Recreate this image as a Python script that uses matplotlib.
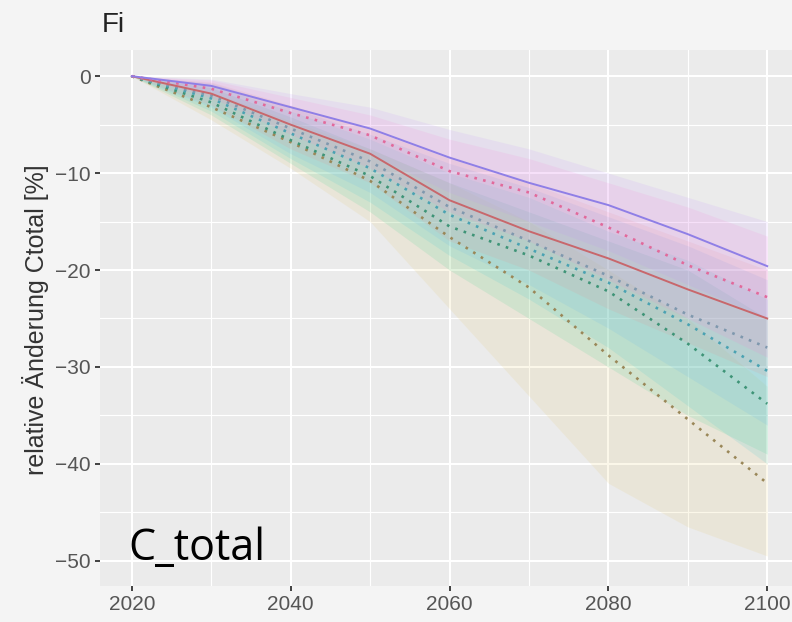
import matplotlib.pyplot as plt
from matplotlib.ticker import MultipleLocator

# Jahre (Stützstellen, alle 10 Jahre)
jahre = [2020, 2030, 2040, 2050, 2060, 2070, 2080, 2090, 2100]

# Mittelwerte je Szenario (relative Änderung Ctotal in %)
lila_mittel = [0, -1.0, -3.2, -5.4, -8.4, -11.0, -13.3, -16.3, -19.6]
rosa_mittel = [0, -1.3, -3.8, -6.1, -9.8, -12.0, -15.6, -19.5, -22.8]
rot_mittel = [0, -1.8, -5.0, -8.0, -12.8, -16.0, -18.8, -22.0, -25.0]
blau_mittel = [0, -2.0, -5.4, -8.8, -13.5, -17.0, -20.6, -24.6, -28.0]
cyan_mittel = [0, -2.3, -5.9, -9.5, -14.3, -17.8, -21.3, -25.6, -30.4]
gruen_mittel = [0, -2.7, -6.6, -10.3, -15.5, -18.5, -22.2, -27.6, -33.8]
gelb_mittel = [0, -3.2, -6.8, -10.8, -16.6, -21.8, -28.8, -35.4, -42.0]

# Unsicherheitsbänder (unten / oben)
lila_unten = [0, -1.8, -5.0, -8.0, -12.0, -15.0, -18.0, -21.5, -25.0]
lila_oben = [0, -0.3, -1.8, -3.2, -5.5, -7.5, -10.0, -12.5, -15.0]
rosa_unten = [0, -2.2, -6.0, -9.5, -14.0, -17.0, -21.0, -25.0, -29.0]
rosa_oben = [0, -0.4, -2.2, -4.0, -6.5, -8.5, -11.0, -13.5, -16.5]
rot_unten = [0, -3.0, -7.5, -11.0, -17.0, -20.0, -24.0, -27.5, -31.0]
rot_oben = [0, -0.6, -3.0, -5.5, -8.5, -11.0, -14.0, -17.0, -20.0]
blau_unten = [0, -3.2, -8.0, -12.0, -17.5, -21.5, -26.0, -31.0, -36.0]
blau_oben = [0, -0.7, -3.2, -6.0, -9.0, -11.5, -14.5, -17.5, -21.0]
cyan_unten = [0, -3.6, -8.5, -13.0, -18.5, -23.0, -28.0, -34.0, -40.0]
cyan_oben = [0, -0.9, -3.6, -6.5, -10.0, -12.5, -16.0, -19.0, -23.0]
gruen_unten = [0, -4.0, -9.0, -14.0, -20.0, -25.0, -30.0, -35.0, -39.0]
gruen_oben = [0, -1.2, -4.2, -7.5, -11.0, -14.0, -17.0, -20.0, -25.0]
gelb_unten = [0, -4.5, -9.5, -15.0, -24.0, -33.0, -42.0, -46.5, -49.5]
gelb_oben = [0, -1.6, -4.6, -7.5, -11.0, -15.0, -20.0, -25.0, -32.0]

reihen = [
    (gelb_mittel, gelb_unten, gelb_oben, "#e3c25a", "#9a8758", "dotted"),
    (gruen_mittel, gruen_unten, gruen_oben, "#2fcf86", "#3e9477", "dotted"),
    (cyan_mittel, cyan_unten, cyan_oben, "#2fc6d0", "#4aa2b2", "dotted"),
    (blau_mittel, blau_unten, blau_oben, "#5ab2ee", "#7f98ae", "dotted"),
    (rot_mittel, rot_unten, rot_oben, "#f08a86", "#c8676c", "solid"),
    (rosa_mittel, rosa_unten, rosa_oben, "#ff7ad2", "#e2699b", "dotted"),
    (lila_mittel, lila_unten, lila_oben, "#c08cff", "#8f7fe6", "solid"),
]

fig = plt.figure(figsize=(7.92, 6.22), dpi=100, facecolor="#f4f4f4")
ax = fig.add_axes([100 / 792, 36 / 622, 699 / 792, 536 / 622])
ax.set_facecolor("#ebebeb")

for mittel, unten, oben, band, linie, stil in reihen:
    ax.fill_between(jahre, unten, oben, color=band, alpha=0.13, lw=0, zorder=2)

for mittel, unten, oben, band, linie, stil in reihen:
    if stil == "solid":
        ax.plot(jahre, mittel, color=linie, lw=1.4, zorder=3)
    else:
        ax.plot(jahre, mittel, color=linie, lw=1.9, ls=(0, (1, 2.4)), zorder=3)

ax.set_xlim(2016, 2104)
ax.set_ylim(-52.6, 2.7)
ax.xaxis.set_major_locator(MultipleLocator(20))
ax.xaxis.set_minor_locator(MultipleLocator(10))
ax.yaxis.set_major_locator(MultipleLocator(10))
ax.yaxis.set_minor_locator(MultipleLocator(5))
ax.grid(which="major", color="white", lw=1.5, zorder=1)
ax.grid(which="minor", color="white", lw=0.8, zorder=1)
ax.set_axisbelow(True)
for s in ax.spines.values():
    s.set_visible(False)

ax.tick_params(which="major", length=3.5, width=1.3, color="#333333",
               labelsize=15, labelcolor="#555555", pad=3)
ax.tick_params(which="minor", length=0)
for lab in ax.get_xticklabels() + ax.get_yticklabels():
    lab.set_family("Liberation Sans")
ax.set_yticks([0, -10, -20, -30, -40, -50])
ax.set_yticklabels(["0", "\u221210", "\u221220", "\u221230", "\u221240", "\u221250"],
                   family="Liberation Sans")

fig.text(36 / 792, 1 - 320 / 622, "relative Änderung Ctotal [%]", rotation=90,
         ha="center", va="center", fontsize=18, color="#333333",
         family="Liberation Sans")
fig.text(102 / 792, 1 - 32 / 622, "Fi", fontsize=20, color="#222222",
         family="Liberation Sans", ha="left", va="baseline")
fig.text(128 / 792, 1 - 560 / 622, "C_total", fontsize=31, color="black",
         family="Open Sans", ha="left", va="baseline")

fig.savefig("out.png", dpi=100, facecolor=fig.get_facecolor())
